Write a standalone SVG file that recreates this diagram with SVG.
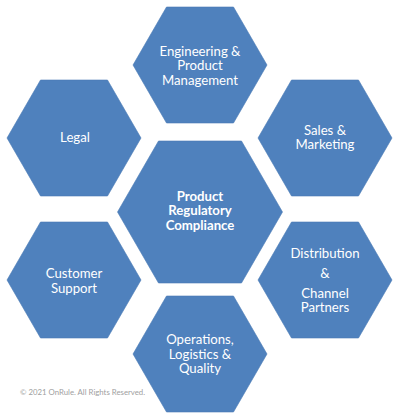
<svg xmlns="http://www.w3.org/2000/svg" width="400" height="420" viewBox="0 0 400 420">
  <style>
    .hex { fill: #4F81BD; stroke: #4A7BB6; stroke-width: 0.6; }
    .lbl { fill: #FFFFFF; font-family: Lato, "Liberation Sans", sans-serif; font-size: 13.2px; text-anchor: middle; }
    .bold { font-weight: bold; }
    .copy { fill: #A0A0A0; font-family: Lato, "Liberation Sans", sans-serif; font-size: 7.8px; }
  </style>
  <rect width="400" height="420" fill="#FFFFFF"/>
  <g id="node-engineering">
    <polygon class="hex" points="133,65 166.5,7 233.5,7 267,65 233.5,123 166.5,123"/>
    <text class="lbl" x="200" y="55.5">Engineering &amp;</text>
    <text class="lbl" x="200" y="70">Product</text>
    <text class="lbl" x="200" y="84.5">Management</text>
  </g>
  <g id="node-legal">
    <polygon class="hex" points="7,138 40.5,80 107.5,80 141,138 107.5,196 40.5,196"/>
    <text class="lbl" x="75" y="142">Legal</text>
  </g>
  <g id="node-sales">
    <polygon class="hex" points="258,138 291.5,80 358.5,80 392,138 358.5,196 291.5,196"/>
    <text class="lbl" x="325" y="134.5">Sales &amp;</text>
    <text class="lbl" x="325" y="149">Marketing</text>
  </g>
  <g id="node-center">
    <polygon class="hex" points="117.5,212 158.5,141 241.5,141 282.5,212 241.5,283 158.5,283"/>
    <text class="lbl bold" x="200" y="200.5">Product</text>
    <text class="lbl bold" x="200" y="215">Regulatory</text>
    <text class="lbl bold" x="200" y="229.5">Compliance</text>
  </g>
  <g id="node-customer">
    <polygon class="hex" points="7,280 40.5,222 107.5,222 141,280 107.5,338 40.5,338"/>
    <text class="lbl" x="74" y="278">Customer</text>
    <text class="lbl" x="74" y="292.5">Support</text>
  </g>
  <g id="node-distribution">
    <polygon class="hex" points="258,280 291.5,222 358.5,222 392,280 358.5,338 291.5,338"/>
    <text class="lbl" x="325" y="258">Distribution</text>
    <text class="lbl" x="325" y="278">&amp;</text>
    <text class="lbl" x="325" y="297.5">Channel</text>
    <text class="lbl" x="325" y="312">Partners</text>
  </g>
  <g id="node-operations">
    <polygon class="hex" points="133,354 166.5,296 233.5,296 267,354 233.5,412 166.5,412"/>
    <text class="lbl" x="200" y="344">Operations,</text>
    <text class="lbl" x="200" y="358.5">Logistics &amp;</text>
    <text class="lbl" x="200" y="373">Quality</text>
  </g>
  <g id="connectors"/>
  <text class="copy" x="20" y="395">© 2021 OnRule. All Rights Reserved.</text>
</svg>
